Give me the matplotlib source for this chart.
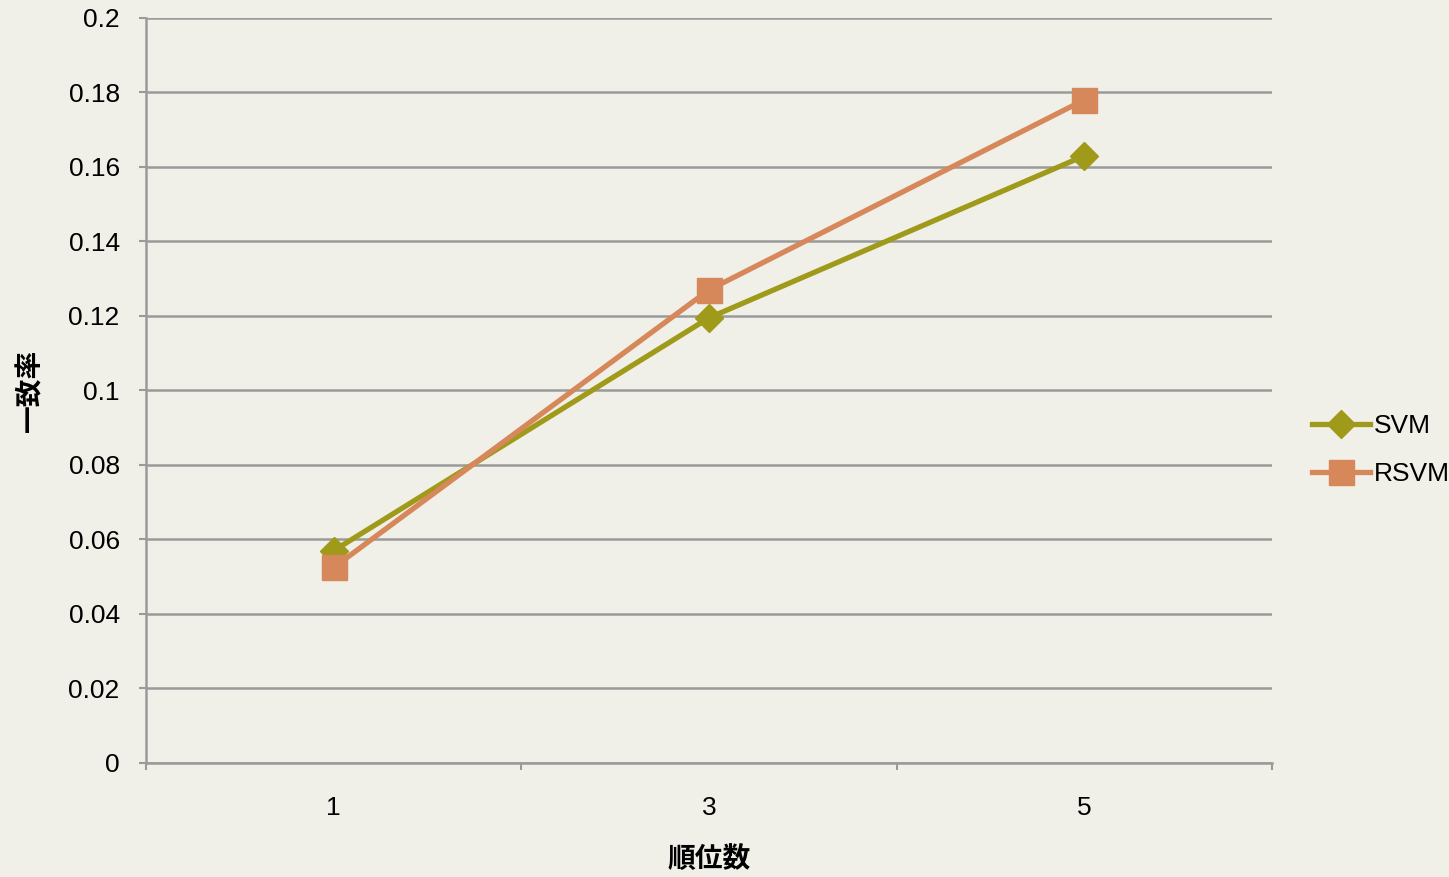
import matplotlib
matplotlib.use("Agg")
import matplotlib.pyplot as plt
import numpy as np

categories = ["1", "3", "5"]
svm = [0.057, 0.1195, 0.163]
rsvm = [0.0525, 0.127, 0.178]
y_ticks = [0, 0.02, 0.04, 0.06, 0.08, 0.1, 0.12, 0.14, 0.16, 0.18, 0.2]
y_tick_labels = ["0", "0.02", "0.04", "0.06", "0.08", "0.1", "0.12", "0.14", "0.16", "0.18", "0.2"]

plt.rcParams["font.family"] = ["Liberation Sans", "Noto Sans CJK JP", "DejaVu Sans"]

bg = "#f0efe8"
grid_col = "#9a9a9a"
fs = 19

fig = plt.figure(figsize=(14.49, 8.77), dpi=100, facecolor=bg)
ax = fig.add_axes([0.1008, 0.13, 0.777, 0.8495])
ax.set_facecolor("none")

x = np.arange(len(categories)) + 0.5
ax.plot(x, svm, color="#a09a1b", lw=3.8, marker="D", ms=14, label="SVM", zorder=3)
ax.plot(x, rsvm, color="#d6885a", lw=3.8, marker="s", ms=18, label="RSVM", zorder=3)

ax.set_xlim(0, len(categories))
ax.set_ylim(0, 0.2)
ax.set_yticks(y_ticks)
ax.set_yticklabels(y_tick_labels, fontsize=fs)
ax.set_xticks(np.arange(len(categories) + 1))
ax.set_xticklabels([])
ax.set_xticks(x, minor=True)
ax.set_xticklabels(categories, minor=True, fontsize=fs)
ax.tick_params(axis="x", which="major", length=5, width=1.5, color=grid_col, direction="out")
ax.tick_params(axis="x", which="minor", length=0, pad=24)
ax.tick_params(axis="y", length=5, width=1.5, color=grid_col, pad=14)
ax.yaxis.grid(True, color=grid_col, lw=1.8)
ax.set_axisbelow(True)

for s in ["top", "right"]:
    ax.spines[s].set_visible(False)
for s in ["left", "bottom"]:
    ax.spines[s].set_color(grid_col)
    ax.spines[s].set_linewidth(1.8)

ax.set_xlabel("順位数", fontsize=20, fontweight="bold", family=["Noto Sans CJK JP"], labelpad=18)
ax.set_ylabel("一致率", fontsize=20, fontweight="bold", family=["Noto Sans CJK JP"], labelpad=17)

fig.legend(*ax.get_legend_handles_labels(), loc="upper left",
           bbox_to_anchor=(1312 / 1449, 1 - 414 / 877), frameon=False, fontsize=fs,
           handlelength=2.2, handletextpad=0.15, labelspacing=0.9,
           borderaxespad=0, borderpad=0)

fig.savefig("out.png", dpi=100, facecolor=bg)
